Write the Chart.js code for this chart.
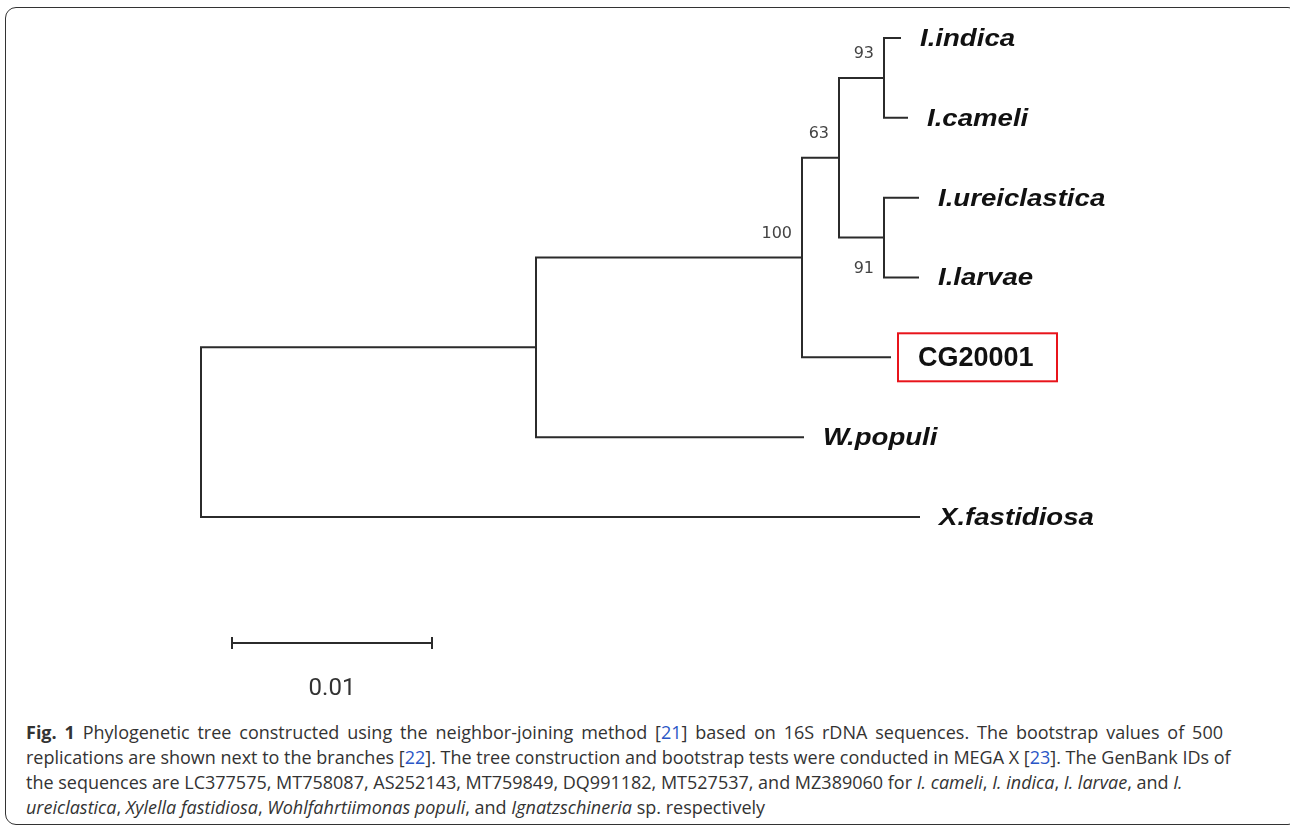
<!DOCTYPE html>
<html>
<head>
<meta charset="utf-8">
<script src="https://cdn.jsdelivr.net/npm/chart.js@4.4.1/dist/chart.umd.min.js"></script>
<style>
  html, body { margin: 0; padding: 0; background: #fff; }
  #page { position: relative; width: 1290px; height: 827px; overflow: hidden; }
  #frame {
    position: absolute; left: 5px; top: 7px; width: 1294px; height: 818px;
    border: 1.5px solid #333; border-radius: 11px; box-sizing: border-box;
  }
  #tree { position: absolute; left: 0; top: 0; }
  #caption {
    position: absolute; left: 26px; top: 720px;
    font-family: "Open Sans", sans-serif; font-size: 18px; line-height: 25px;
    color: #333; white-space: nowrap;
  }
  #caption .line { display: block; height: 25px; }
  #caption .full { width: 1197px; text-align: justify; text-align-last: justify; }
  #caption .ref { color: #2a56c6; }
</style>
</head>
<body>
<div id="page">
  <div id="frame"></div>
  <canvas id="tree" width="1290" height="715"></canvas>
  <div id="caption">
    <span class="line full"><b>Fig. 1</b> Phylogenetic tree constructed using the neighbor-joining method [<span class="ref">21</span>] based on 16S rDNA sequences. The bootstrap values of 500</span>
    <span class="line">replications are shown next to the branches [<span class="ref">22</span>]. The tree construction and bootstrap tests were conducted in MEGA X [<span class="ref">23</span>]. The GenBank IDs of</span>
    <span class="line">the sequences are LC377575, MT758087, AS252143, MT759849, DQ991182, MT527537, and MZ389060 for <i>I. cameli</i>, <i>I. indica</i>, <i>I. larvae</i>, and <i>I.</i></span>
    <span class="line"><i>ureiclastica</i>, <i>Xylella fastidiosa</i>, <i>Wohlfahrtiimonas populi</i>, and <i>Ignatzschineria</i> sp. respectively</span>
  </div>
</div>
<script>
// tree nodes: internal nodes first, then tips
const nodeIds   = ['root', 'A', 'B', 'C', 'D', 'E',
                   'I.indica', 'I.cameli', 'I.ureiclastica', 'I.larvae', 'CG20001', 'W.populi', 'X.fastidiosa'];
const parentIds = [null, 'root', 'A', 'B', 'C', 'C',
                   'D', 'D', 'E', 'E', 'B', 'A', 'root'];
// branch length from parent (substitutions per site)
const branchLengths = [0, 0.01675, 0.0133, 0.00185, 0.00225, 0.00225,
                       0.0008, 0.00115, 0.0017, 0.0017, 0.0044, 0.01335, 0.0359];
// bootstrap support (500 replications)
const bootstrapValues = [null, null, 100, 63, 93, 91,
                         null, null, null, null, null, null, null];
// tips from top to bottom
const tipOrder = ['I.indica', 'I.cameli', 'I.ureiclastica', 'I.larvae', 'CG20001', 'W.populi', 'X.fastidiosa'];
const highlightTip = 'CG20001';
const scaleBarLength = 0.01;
const scaleBarLabel = '0.01';

// layout: x = cumulative branch length, y = tip row / mean of children
const nodeX = {}, nodeY = {}, children = {};
nodeIds.forEach(id => { children[id] = []; });
nodeIds.forEach((id, i) => { if (parentIds[i]) children[parentIds[i]].push(id); });

function placeX(id, base) {
  const i = nodeIds.indexOf(id);
  nodeX[id] = base + branchLengths[i];
  children[id].forEach(c => placeX(c, nodeX[id]));
}
function placeY(id) {
  if (children[id].length === 0) {
    nodeY[id] = tipOrder.indexOf(id);
  } else {
    const ys = children[id].map(placeY);
    nodeY[id] = (Math.min(...ys) + Math.max(...ys)) / 2;
  }
  return nodeY[id];
}
placeX('root', 0);
placeY('root');

const LINE = '#2b2b2b';

// one elbow dataset per branch
const branchSets = nodeIds.filter((id, i) => parentIds[i]).map(id => {
  const p = parentIds[nodeIds.indexOf(id)];
  return {
    data: [
      { x: nodeX[p], y: nodeY[p] },
      { x: nodeX[p], y: nodeY[id] },
      { x: nodeX[id], y: nodeY[id] }
    ],
    showLine: true,
    borderColor: LINE,
    borderWidth: 2,
    pointRadius: 0,
    borderJoinStyle: 'miter',
    borderCapStyle: 'square',
    tension: 0
  };
});

// scale bar
const barStart = 0.00155, barRow = 7.58;
const scaleBarSet = {
  data: [{ x: barStart, y: barRow }, { x: barStart + scaleBarLength, y: barRow }],
  showLine: true,
  borderColor: LINE,
  borderWidth: 2,
  pointStyle: 'line',
  pointRotation: 90,
  pointRadius: 6,
  pointBorderWidth: 2,
  pointBorderColor: LINE
};

const labelPlugin = {
  id: 'treeLabels',
  afterDatasetsDraw(chart) {
    const { ctx, scales: { x, y } } = chart;
    ctx.save();
    // tip names
    tipOrder.forEach(name => {
      const px = x.getPixelForValue(nodeX[name]);
      const py = y.getPixelForValue(nodeY[name]);
      ctx.fillStyle = '#111';
      ctx.textBaseline = 'alphabetic';
      ctx.textAlign = 'left';
      if (name === highlightTip) {
        ctx.font = 'bold 27px "Liberation Sans", Arial, sans-serif';
        ctx.fillText(name, px + 28, py + 9);
        ctx.strokeStyle = '#e8141b';
        ctx.lineWidth = 2;
        ctx.strokeRect(px + 8, py - 24, 159, 48);
      } else {
        ctx.font = 'italic bold 24px "Liberation Sans", Arial, sans-serif';
        ctx.translate(px + 20, py + 8);
        ctx.scale(1.15, 1);
        ctx.fillText(name, 0, 0);
        ctx.setTransform(1, 0, 0, 1, 0, 0);
      }
    });
    // bootstrap values
    ctx.font = '16px "DejaVu Sans", sans-serif';
    ctx.fillStyle = '#444';
    ctx.textAlign = 'right';
    ctx.textBaseline = 'middle';
    nodeIds.forEach((id, i) => {
      if (bootstrapValues[i] == null) return;
      const px = x.getPixelForValue(nodeX[id]);
      const py = y.getPixelForValue(nodeY[id]);
      const below = bootstrapValues[i] === 91;
      ctx.fillText(String(bootstrapValues[i]), px - 10, below ? py + 31 : py - 24);
    });
    // scale bar label
    ctx.font = '24px Roboto, sans-serif';
    ctx.fillStyle = '#333';
    ctx.textAlign = 'center';
    ctx.textBaseline = 'middle';
    ctx.fillText(scaleBarLabel,
      x.getPixelForValue(barStart + scaleBarLength / 2),
      y.getPixelForValue(barRow) + 46);
    ctx.restore();
  }
};

new Chart(document.getElementById('tree'), {
  type: 'scatter',
  data: { datasets: [...branchSets, scaleBarSet] },
  options: {
    responsive: false,
    animation: false,
    layout: { padding: 0, autoPadding: false },
    plugins: { legend: { display: false }, tooltip: { enabled: false } },
    scales: {
      x: { type: 'linear', display: false, min: -0.01005, max: 0.05445 },
      y: { type: 'linear', display: false, reverse: true, min: -0.476, max: 8.481 }
    }
  },
  plugins: [labelPlugin]
});
</script>
</body>
</html>
